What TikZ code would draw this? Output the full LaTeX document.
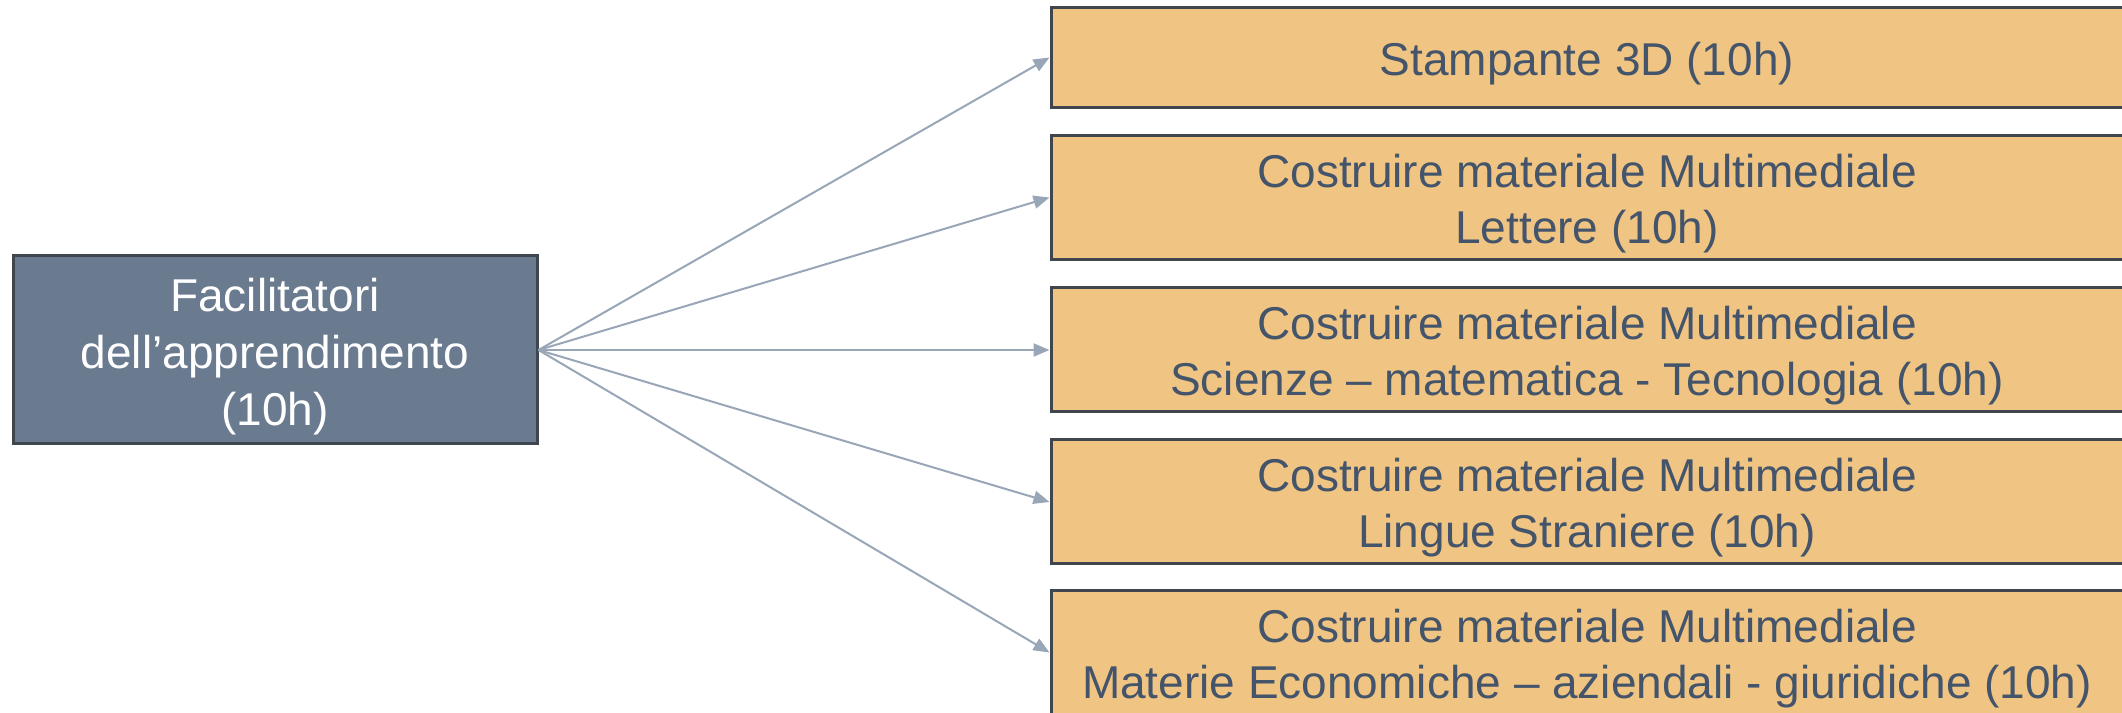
\documentclass[tikz,border=0pt]{standalone}
\usepackage{fontspec}
\setmainfont{Liberation Sans}
\usetikzlibrary{arrows.meta}
\definecolor{leftfill}{HTML}{6A7A8F}
\definecolor{boxline}{HTML}{40464E}
\definecolor{orfill}{HTML}{F0C583}
\definecolor{txtdark}{HTML}{44546A}
\definecolor{arrowc}{HTML}{98A6B7}
\tikzset{
  srcbox/.style={draw=boxline, line width=3pt, fill=leftfill,
    minimum width=524pt, minimum height=188pt, inner sep=0pt},
  srctext/.style={text=white, align=center, inner sep=0pt, yshift=-7pt,
    font=\fontsize{46}{57}\selectfont},
  tgtbox/.style={draw=boxline, line width=3pt, fill=orfill,
    minimum width=1072pt, inner sep=0pt},
  tgttext/.style={text=txtdark, align=center, inner sep=0pt, yshift=-6pt,
    font=\fontsize{46}{56}\selectfont},
  link/.style={draw=arrowc, line width=2pt, -{Triangle[length=16pt,width=13pt]}}
}
\begin{document}
\begin{tikzpicture}[x=1pt,y=1pt]
\useasboundingbox (0,0) rectangle (2122,712);
\node[srcbox, label={[srctext]center:Facilitatori\\dell’apprendimento\\(10h)}] (src) at (275,362) {};
\node[tgtbox, minimum height=100pt, label={[tgttext]center:Stampante 3D (10h)}] (t1) at (1587,654.5) {};
\node[tgtbox, minimum height=124pt, label={[tgttext]center:Costruire materiale Multimediale\\Lettere (10h)}] (t2) at (1587,514.5) {};
\node[tgtbox, minimum height=124pt, label={[tgttext]center:Costruire materiale Multimediale\\Scienze – matematica - Tecnologia (10h)}] (t3) at (1587,362) {};
\node[tgtbox, minimum height=124pt, label={[tgttext]center:Costruire materiale Multimediale\\Lingue Straniere (10h)}] (t4) at (1587,210) {};
\node[tgtbox, minimum height=123pt, label={[tgttext]center:Costruire materiale Multimediale\\Materie Economiche – aziendali - giuridiche (10h)}] (t5) at (1587,59.5) {};
\foreach \t in {t1,t2,t3,t4,t5}
  \draw[link] (src.east) -- (\t.west);
\end{tikzpicture}
\end{document}
